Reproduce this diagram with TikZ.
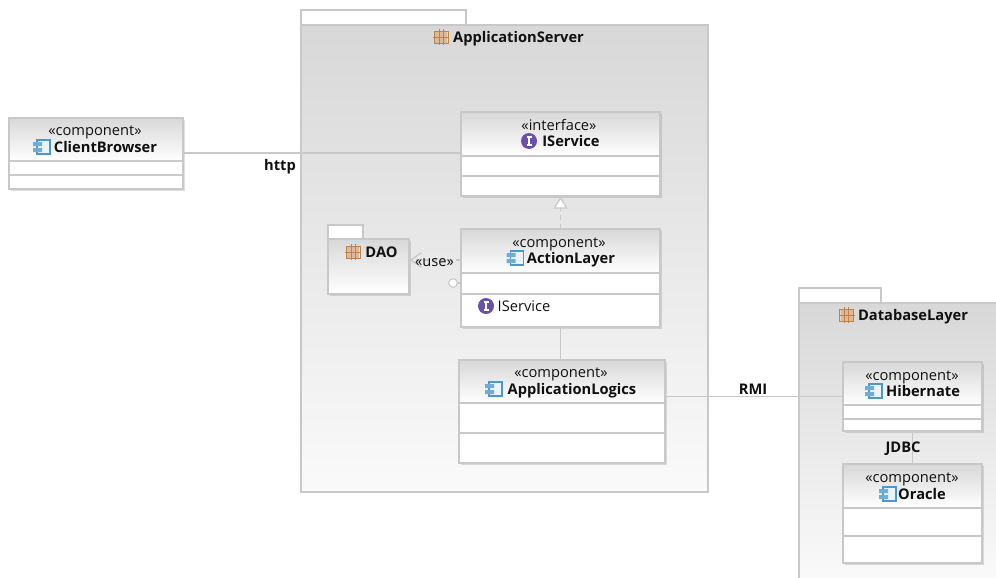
\documentclass[tikz,border=0pt]{standalone}
\usepackage{fontspec}
\setmainfont{Open Sans}
\usetikzlibrary{arrows.meta,fit,shadows}

\definecolor{umlline}{HTML}{C8C8C8}
\definecolor{umltext}{HTML}{101010}
\definecolor{pkgfill}{HTML}{D8D8D8}
\definecolor{ifacepurple}{HTML}{6A50A8}
\definecolor{compblue}{HTML}{4C98CC}
\definecolor{pkgorange}{HTML}{C08048}

\tikzset{
  pkgbody/.style={draw=umlline, line width=1pt, inner sep=0pt, top color=pkgfill, bottom color=white!98!black},
  pkgtab/.style={draw=umlline, line width=0.9pt, fill=white},
  classbox/.style={draw=umlline, line width=1pt, inner sep=0pt, fill=white,
    drop shadow={shadow xshift=1.2pt, shadow yshift=-1.2pt, fill=black, opacity=0.12}},
  headfill/.style={top color=pkgfill, bottom color=white},
  divider/.style={umlline, line width=0.8pt},
  stereo/.style={inner sep=0pt, text=umltext, text height=9.5pt, text depth=2pt, font=\fontsize{11}{12}\selectfont},
  title/.style={stereo, font=\fontsize{11}{12}\selectfont\bfseries},
  wire/.style={umlline, line width=0.9pt},
  pics/pkgicon/.style={code={
    \fill[pkgorange!55!white] (-6,-6) rectangle (6,6);
    \draw[pkgorange, line width=0.7pt] (-7,-6) rectangle (7,6);
    \draw[pkgorange, line width=0.7pt] (-2,-8) -- (-2,8) (2,-8) -- (2,8) (-8,0) -- (8,0);
  }},
  pics/compicon/.style={code={
    \draw[compblue, fill=compblue!12, line width=0.8pt] (-5,-7) rectangle (8,7);
    \fill[compblue!80] (-9,-5) rectangle (0,-1) (-9,1) rectangle (0,5);
  }},
  pics/ifaceicon/.style={code={
    \fill[ifacepurple] (0,0) circle (8);
    \draw[white, line width=1.1pt] (0,-4) -- (0,4) (-2.5,-4) -- (2.5,-4) (-2.5,4) -- (2.5,4);
  }},
}

\begin{document}
\begin{tikzpicture}[x=0.75pt, y=-0.75pt]
\useasboundingbox (0,0) rectangle (996,578);

% packages
\draw[pkgtab] (301,10) rectangle (466,25);
\node[pkgbody, fit={(301,25) (708,492)}] (appserver) {};
\draw[pkgtab] (799,288) rectangle (881,303);
\shade[headfill, bottom color=white!98!black] (799,303) rectangle (996,578);
\draw[umlline, line width=1pt] (799,578) -- (799,303) -- (996,303);

% connectors
\node[classbox, fit={(9,118) (183,189)}] (clientbrowser) {};
\node[classbox, fit={(461,112) (660,196)}] (iservice) {};
\node[classbox, fit={(461,229) (660,327)}] (actionlayer) {};
\node[classbox, fit={(459,360) (665,463)}] (logics) {};
\node[classbox, fit={(843,362) (982,431)}] (hibernate) {};
\node[classbox, fit={(843,464) (982,563)}] (oracle) {};
\node[pkgtab, inner sep=0pt, fit={(328,225) (363,239)}] (daotab) {};
\node[pkgbody, bottom color=white, drop shadow={shadow xshift=1.2pt, shadow yshift=-1.2pt, fill=black, opacity=0.12}, fit={(328,239) (409,294)}] (dao) {};

\draw[wire] (clientbrowser.east |- 183,153) -- (iservice.west |- 461,153);
\draw[wire] (actionlayer.south) -- (logics.north -| actionlayer.south);
\draw[wire] (logics.east |- hibernate.west) -- (hibernate.west);
\draw[wire] (hibernate.south) -- (oracle.north);
\draw[wire, dashed, dash pattern=on 3.5pt off 3pt, -{Triangle[open, fill=white, length=9pt, width=10.5pt]}] (actionlayer.north) -- (iservice.south);
\coordinate (usestart) at (461,260);
\draw[wire, dashed, dash pattern=on 3.5pt off 2.5pt, -{Straight Barb[length=8pt, width=11pt, line width=1pt]}] (usestart) -- (dao.east |- usestart);
\node[circle, draw=umlline, line width=0.8pt, fill=white, inner sep=0pt, minimum size=6.5pt] (socket) at (453,283) {};
\draw[wire] (socket) -- (actionlayer.west |- socket);

% headers
\draw[divider, headfill] (9,118) rectangle (183,161);
\draw[divider] (9,175) -- (183,175);
\draw[divider, headfill] (461,112) rectangle (660,156);
\draw[divider] (461,176) -- (660,176);
\draw[divider, headfill] (461,229) rectangle (660,273);
\draw[divider] (461,294) -- (660,294);
\draw[divider, headfill] (459,360) rectangle (665,403);
\draw[divider] (459,433) -- (665,433);
\draw[divider, headfill] (843,362) rectangle (982,405);
\draw[divider] (843,419) -- (982,419);
\draw[divider, headfill] (843,464) rectangle (982,508);
\draw[divider] (843,536) -- (982,536);

% labels
\node[title] (appname) at (518.5,37) {ApplicationServer};
\pic at (441,37) {pkgicon};
\node[title] (daoname) at (381.5,252) {DAO};
\pic at (353,252) {pkgicon};
\node[title] (dbname) at (913,315) {DatabaseLayer};
\pic at (846.5,315) {pkgicon};

\node[stereo] (clientst) at (95,130) {«component»};
\node[title] (clientname) at (105.5,147) {ClientBrowser};
\pic at (42,147) {compicon};
\node[stereo] (ifacest) at (559,125) {«interface»};
\node[title] (ifacename) at (571,141) {IService};
\pic at (529,141) {ifaceicon};
\node[stereo] (actionst) at (559,242) {«component»};
\node[title] (actionname) at (571,258) {ActionLayer};
\pic at (515.5,258) {compicon};
\pic at (486,306) {ifaceicon};
\node[stereo] (ifaceop) at (524,306) {IService};
\node[stereo] (usest) at (434.5,261) {«use»};
\node[stereo] (logicsst) at (561,372) {«component»};
\node[title] (logicsname) at (572,389) {ApplicationLogics};
\pic at (494,389) {compicon};
\node[stereo] (hibst) at (912,375) {«component»};
\node[title] (hibname) at (923,391) {Hibernate};
\pic at (874,391) {compicon};
\node[stereo] (orast) at (912,477) {«component»};
\node[title] (oraname) at (922,494) {Oracle};
\pic at (888,494) {compicon};

\node[title] (http) at (280,165) {http};
\node[title] (rmi) at (753,389) {RMI};
\node[title] (jdbc) at (903,447) {JDBC};

\end{tikzpicture}
\end{document}
